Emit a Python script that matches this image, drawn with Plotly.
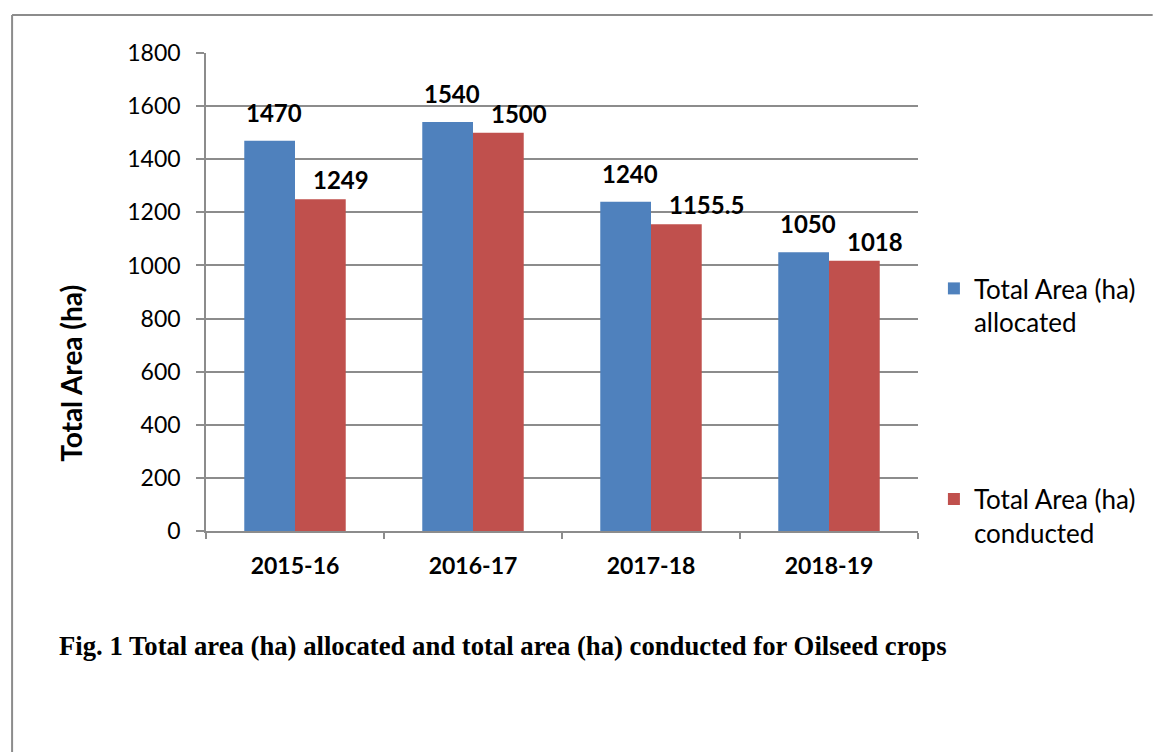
import plotly.graph_objects as go

categories = ["2015-16", "2016-17", "2017-18", "2018-19"]
allocated = [1470, 1540, 1240, 1050]
conducted = [1249, 1500, 1155.5, 1018]
label_allocated = ["1470", "1540", "1240", "1050"]
label_conducted = ["1249", "1500", "1155.5", "1018"]
y_ticks = [0, 200, 400, 600, 800, 1000, 1200, 1400, 1600, 1800]
series_names = ["Total Area (ha)<br>allocated", "Total Area (ha)<br>conducted"]
y_title = "Total Area (ha)"
caption = "Fig. 1 Total area (ha) allocated and total area (ha) conducted for Oilseed crops"

BLUE = "#4F81BD"
RED = "#C0504D"
GRID = "#8C8C8C"
SANS = "Lato, 'Open Sans', sans-serif"

W, H = 1153, 752
L, R, T, B = 206, 231, 53, 221
pw, ph = W - L - R, H - T - B

def px_x(x):
    return (x - L) / pw

def px_y(y):
    return (H - B - y) / ph

fig = go.Figure()
fig.add_trace(go.Bar(x=categories, y=allocated, name=series_names[0],
                     marker=dict(color=BLUE, line=dict(width=0)),
                     legendgroup="a"))
fig.add_trace(go.Bar(x=categories, y=conducted, name=series_names[1],
                     marker=dict(color=RED, line=dict(width=0)),
                     legendgroup="b"))

annotations = []
for c, v, t in zip(categories, allocated, label_allocated):
    annotations.append(dict(x=c, y=v, text=f"<b>{t}</b>", showarrow=False,
                            xref="x", yref="y", xanchor="left", yanchor="bottom",
                            xshift=-51, yshift=12,
                            font=dict(family=SANS, size=24, color="black")))
for c, v, t in zip(categories, conducted, label_conducted):
    annotations.append(dict(x=c, y=v, text=f"<b>{t}</b>", showarrow=False,
                            xref="x", yref="y", xanchor="left", yanchor="bottom",
                            xshift=16, yshift=3,
                            font=dict(family=SANS, size=24, color="black")))
annotations.append(dict(x=px_x(70), y=px_y(373), xref="paper", yref="paper",
                        text=f"<b>{y_title}</b>", showarrow=False, textangle=-90,
                        xanchor="center", yanchor="middle",
                        font=dict(family=SANS, size=28, color="black")))
annotations.append(dict(x=px_x(56), y=px_y(646), xref="paper", yref="paper",
                        text=f"<b>{caption}</b>", showarrow=False,
                        xanchor="left", yanchor="middle",
                        font=dict(family="'Liberation Serif', 'Times New Roman', serif",
                                  size=26.7, color="black")))

shapes = [
    dict(type="line", xref="paper", yref="paper",
         x0=px_x(11), x1=px_x(W + 5), y0=px_y(15), y1=px_y(15),
         line=dict(color="#8C8C8C", width=2)),
    dict(type="line", xref="paper", yref="paper",
         x0=px_x(11), x1=px_x(11), y0=px_y(15), y1=px_y(H + 5),
         line=dict(color="#8C8C8C", width=2)),
]

fig.update_layout(
    width=W, height=H,
    margin=dict(l=L, r=R, t=T, b=B),
    paper_bgcolor="white", plot_bgcolor="white",
    barmode="group", bargap=0.43, bargroupgap=0,
    showlegend=True,
    legend=dict(x=px_x(938), y=px_y(265), xanchor="left", yanchor="top",
                font=dict(family=SANS, size=26, color="black"),
                valign="top", tracegroupgap=140, traceorder="grouped",
                itemwidth=30, bgcolor="rgba(0,0,0,0)"),
    annotations=annotations,
    shapes=shapes,
    xaxis=dict(showgrid=False, showline=True, linecolor=GRID, linewidth=1.5,
               ticks="outside", ticklen=6, tickcolor=GRID, tickwidth=1.5,
               tickson="boundaries", ticklabelstandoff=14,
               tickfont=dict(family=SANS, size=23, color="black", weight="bold")),
    yaxis=dict(range=[0, 1800], tickvals=y_ticks, showgrid=True,
               gridcolor=GRID, gridwidth=1.5, zeroline=False,
               showline=True, linecolor=GRID, linewidth=1.5,
               ticks="outside", ticklen=8, tickcolor=GRID, tickwidth=1.5,
               ticklabelstandoff=11,
               tickfont=dict(family=SANS, size=23, color="black")),
)

fig.write_html("out.html")
